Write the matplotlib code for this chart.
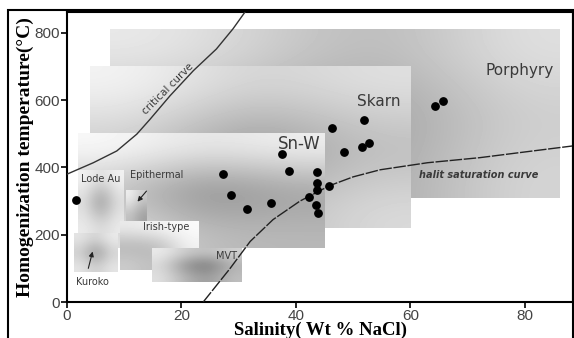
import numpy as np
import matplotlib
matplotlib.use("Agg")
import matplotlib.pyplot as plt
from matplotlib.patches import Rectangle

# fluid inclusion data (salinity wt% NaCl, homogenization T in C)
salinity = [1.6, 27.2, 28.6, 31.4, 35.6, 37.5, 38.7, 42.3, 43.5, 43.6, 43.6,
            43.7, 43.9, 45.8, 46.3, 48.4, 51.5, 51.9, 52.8, 64.3, 65.7]
temperature = [304, 381, 319, 275, 293, 439, 388, 311, 289, 385, 334,
               354, 265, 344, 517, 447, 460, 540, 473, 583, 596]

crit_x = [0.0, 4.6, 8.7, 12.2, 14.5, 18.0, 22.1, 26.1, 29.0, 31.1]
crit_y = [380, 414, 449, 499, 543, 613, 688, 752, 812, 862]

halit_x = [23.8, 28.5, 32.0, 36.0, 40.7, 42.4, 45.9, 50.0, 54.7, 63.0,
           72.1, 80.0, 88.4]
halit_y = [0, 100, 180, 245, 300, 315, 346, 372, 393, 414, 429, 446, 464]

# deposit fields: name, x0, x1, y0, y1
fields = {
    "Porphyry": (7.5, 86.0, 310, 810),
    "Skarn": (4.0, 60.0, 220, 700),
    "Sn-W": (2.0, 45.0, 160, 500),
    "Lode Au": (2.0, 10.0, 205, 390),
    "Kuroko": (1.2, 8.8, 90, 205),
    "Irish-type": (9.3, 23.0, 95, 240),
    "Epithermal": (10.3, 13.8, 240, 330),
    "MVT": (14.8, 30.5, 60, 160),
}

# gray shading of each field (rows bottom -> top)
shades = {
    "Porphyry": [[0.75, 0.70, 0.66, 0.84],
                 [0.72, 0.64, 0.62, 0.80],
                 [0.92, 0.80, 0.72, 0.88]],
    "Skarn": [[0.85, 0.72, 0.86],
              [0.78, 0.52, 0.72],
              [0.96, 0.82, 0.88]],
    "Sn-W": [[0.90, 0.74, 0.72],
             [0.76, 0.50, 0.62],
             [0.98, 0.90, 0.94]],
    "Lode Au": [[0.92, 0.85, 0.92],
                [0.85, 0.52, 0.85],
                [0.95, 0.88, 0.95]],
    "Kuroko": [[0.90, 0.80, 0.90],
               [0.80, 0.55, 0.82],
               [0.90, 0.82, 0.92]],
    "Irish-type": [[0.80, 0.72, 0.92],
                   [0.70, 0.72, 0.95],
                   [0.92, 0.96, 0.98]],
    "Epithermal": [[0.75, 0.62],
                   [0.94, 0.80]],
    "MVT": [[0.88, 0.70, 0.60, 0.75],
            [0.85, 0.55, 0.45, 0.70],
            [0.92, 0.80, 0.75, 0.82]],
}

fig = plt.figure(figsize=(5.74, 3.38), dpi=100)
ax = fig.add_axes([67 / 574, 36 / 338, 506 / 574, 290 / 338])

for name, (x0, x1, y0, y1) in fields.items():
    ax.imshow(np.array(shades[name]), extent=(x0, x1, y0, y1), origin="lower",
              cmap="gray", vmin=0, vmax=1, aspect="auto",
              interpolation="bicubic", zorder=1)

ax.plot(crit_x, crit_y, color="#333333", lw=1.0, zorder=3)
ax.plot(halit_x, halit_y, color="#222222", lw=1.0, dashes=(9, 1.2), zorder=3)
ax.scatter(salinity, temperature, s=28, color="black", zorder=4)

lab = dict(color="#3a3a3a", family="DejaVu Sans", zorder=5)
ax.text(79, 688, "Porphyry", fontsize=11, ha="center", va="center", **lab)
ax.text(54.5, 597, "Skarn", fontsize=11, ha="center", va="center", **lab)
ax.text(40.5, 470, "Sn-W", fontsize=12, ha="center", va="center", **lab)
ax.text(5.8, 366, "Lode Au", fontsize=7, ha="center", va="center", **lab)
ax.text(15.6, 377, "Epithermal", fontsize=7, ha="center", va="center", **lab)
ax.text(17.3, 222, "Irish-type", fontsize=7, ha="center", va="center", **lab)
ax.text(27.8, 138, "MVT", fontsize=7, ha="center", va="center", **lab)
ax.text(4.4, 60, "Kuroko", fontsize=7, ha="center", va="center", **lab)
ax.text(72, 378, "halit saturation curve", fontsize=7, style="italic",
        weight="bold", ha="center", va="center", **lab)
ax.text(17.6, 634, "critical curve", fontsize=7.5, rotation=45,
        ha="center", va="center", **lab)

ax.annotate("", xy=(4.6, 158), xytext=(3.6, 92),
            arrowprops=dict(arrowstyle="-|>", color="#222222", lw=0.8,
                            mutation_scale=7), zorder=5)
ax.annotate("", xy=(12.0, 292), xytext=(14.2, 336),
            arrowprops=dict(arrowstyle="-|>", color="#222222", lw=0.8,
                            mutation_scale=7), zorder=5)

ax.set_xlim(0, 88.4)
ax.set_ylim(0, 862)
ax.set_xticks([0, 20, 40, 60, 80])
ax.set_yticks([0, 200, 400, 600, 800])
ax.tick_params(labelsize=11, labelcolor="#444444", length=4, width=1.2,
               direction="out", pad=1)
for lbl in ax.get_xticklabels() + ax.get_yticklabels():
    lbl.set_family("Liberation Sans")
for sp in ax.spines.values():
    sp.set_linewidth(1.5)

ax.set_xlabel("Salinity( Wt % NaCl)", fontsize=13.5, family="Liberation Serif",
              weight="bold", labelpad=-1)
ax.set_ylabel("Homogenization temperature(\u00b0C)", fontsize=14,
              family="Liberation Serif", weight="bold")
ax.yaxis.set_label_coords(-0.066, 0.50)

# outer frame of the figure
fig.patches.append(Rectangle((8 / 574, -0.1), 565 / 574, 1.1 - 10 / 338,
                             transform=fig.transFigure, fill=False,
                             edgecolor="black", lw=1.5))

fig.savefig("out.png", dpi=100)
